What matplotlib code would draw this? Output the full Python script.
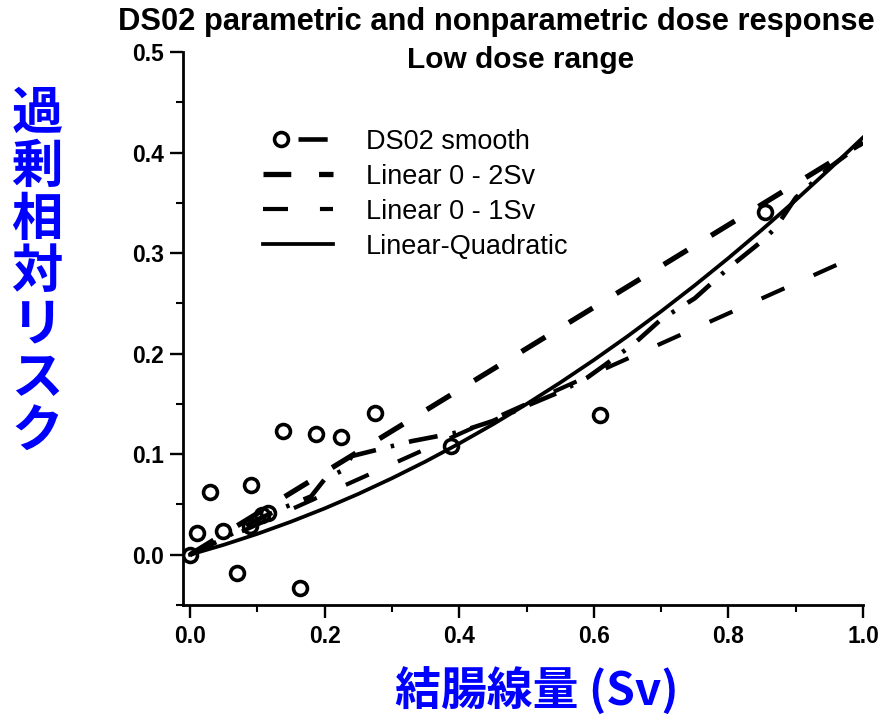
import matplotlib.pyplot as plt
from matplotlib.ticker import MultipleLocator
from matplotlib.legend_handler import HandlerTuple

plt.rcParams['font.family'] = ['Liberation Sans', 'DejaVu Sans']
plt.rcParams['lines.scale_dashes'] = False

# observed excess relative risk per dose category
dose_obs = [0.0, 0.01, 0.03, 0.049, 0.07, 0.089, 0.09, 0.107, 0.116, 0.138,
            0.163, 0.187, 0.224, 0.275, 0.388, 0.609, 0.855]
err_obs = [0.0, 0.022, 0.062, 0.024, -0.018, 0.029, 0.069, 0.039, 0.041, 0.123,
           -0.033, 0.120, 0.117, 0.141, 0.108, 0.139, 0.341]

# DS02 smooth (nonparametric)
smooth_dose = [0.0, 0.05, 0.10, 0.14, 0.18, 0.20, 0.23, 0.24, 0.30, 0.33, 0.40,
               0.45, 0.50, 0.55, 0.59, 0.615, 0.66, 0.70, 0.75, 0.80, 0.85,
               0.87, 0.90, 0.95, 1.0]
smooth_err = [0.0, 0.016, 0.035, 0.047, 0.058, 0.075, 0.085, 0.098, 0.108, 0.113,
              0.122, 0.133, 0.148, 0.162, 0.176, 0.188, 0.21, 0.234, 0.255, 0.285,
              0.312, 0.325, 0.355, 0.385, 0.41]

# linear-quadratic fit
lq_dose = [0.0, 0.05, 0.10, 0.15, 0.20, 0.25, 0.30, 0.35, 0.40, 0.45, 0.50,
           0.55, 0.60, 0.65, 0.70, 0.75, 0.80, 0.85, 0.90, 0.95, 1.0]
lq_err = [0.0, 0.0098, 0.0207, 0.0328, 0.046, 0.0604, 0.076, 0.0927, 0.1106,
          0.1296, 0.1498, 0.1711, 0.1936, 0.2172, 0.242, 0.2679, 0.295, 0.3233,
          0.3527, 0.3833, 0.415]

# linear fits
lin2_dose = [0.0, 1.0]
lin2_err = [0.0, 0.41]
lin1_dose = [0.0, 1.0]
lin1_err = [0.0, 0.30]

xticks = [0.0, 0.2, 0.4, 0.6, 0.8, 1.0]
yticks = [0.0, 0.1, 0.2, 0.3, 0.4, 0.5]

fig = plt.figure(figsize=(8.81, 7.19), dpi=100)
ax = fig.add_axes([0.2077, 0.1586, 0.7719, 0.7691])

lq, = ax.plot(lq_dose, lq_err, color='black', lw=2.7)
l2, = ax.plot(lin2_dose, lin2_err, color='black', lw=3.8, dashes=(20, 20),
              dash_capstyle='butt')
l1, = ax.plot(lin1_dose, lin1_err, color='black', lw=3.0, dashes=(18, 23),
              dash_capstyle='butt')
sm, = ax.plot(smooth_dose, smooth_err, color='black', lw=3.3,
              dashes=(21, 11, 2.5, 11), dash_capstyle='butt')
pts, = ax.plot(dose_obs, err_obs, 'o', ms=10, mfc='none', mec='black', mew=2.6)

ax.set_xlim(-0.0104, 1.0)
ax.set_ylim(-0.05, 0.5)
ax.set_xticks(xticks)
ax.set_xticklabels([f'{v:.1f}' for v in xticks])
ax.set_yticks(yticks)
ax.set_yticklabels([f'{v:.1f}' for v in yticks])
ax.xaxis.set_minor_locator(MultipleLocator(0.1))
ax.yaxis.set_minor_locator(MultipleLocator(0.05))
ax.tick_params(which='major', direction='out', length=9.5, width=1.7,
               labelsize=16.5, pad=4)
ax.tick_params(axis='x', which='major', pad=5)
ax.tick_params(which='minor', direction='out', length=5, width=1.5)
for lab in ax.get_xticklabels() + ax.get_yticklabels():
    lab.set_fontweight('bold')
for s in ['top', 'right']:
    ax.spines[s].set_visible(False)
for s in ['left', 'bottom']:
    ax.spines[s].set_linewidth(2.0)

ax.legend([(pts, sm), l2, l1, lq],
          ['DS02 smooth', 'Linear 0 - 2Sv', 'Linear 0 - 1Sv', 'Linear-Quadratic'],
          handler_map={tuple: HandlerTuple(ndivide=2, pad=0)},
          loc='upper left', bbox_to_anchor=(0.1176, 0.8610), frameon=False,
          fontsize=19.5, handlelength=2.6, handletextpad=1.2, labelspacing=0.33,
          borderpad=0, borderaxespad=0)

fig.text(118 / 881, 1 - 22 / 719, 'DS02 parametric and nonparametric dose response',
         fontsize=22.2, fontweight='bold', ha='left', va='center')
fig.text(521 / 881, 1 - 60 / 719, 'Low dose range',
         fontsize=21.5, fontweight='bold', ha='center', va='center')

fig.text(37 / 881, 1 - 272 / 719, '\n'.join('過剰相対リスク'), color='#0000ff',
         fontsize=37, fontweight='bold', family=['Noto Sans CJK JP', 'DejaVu Sans'],
         ha='center', va='center', linespacing=1.0)
fig.text(537 / 881, 1 - 692 / 719, '結腸線量 (Sv)', color='#0000ff',
         fontsize=33, fontweight='bold', family=['Noto Sans CJK JP', 'DejaVu Sans'],
         ha='center', va='center')

fig.savefig('out.png', dpi=100)
